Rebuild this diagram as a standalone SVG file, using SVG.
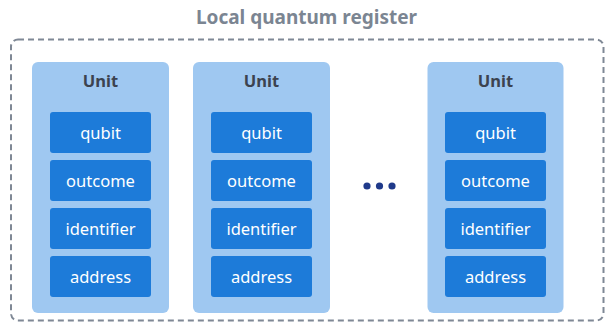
<svg xmlns="http://www.w3.org/2000/svg" width="609" height="322" viewBox="0 0 609 322">
<style>
.title{font-family:"Noto Sans","Open Sans",sans-serif;font-weight:700;font-size:19px;fill:#7b8592;text-anchor:middle}
.unit{fill:#9fc8f1}
.ut{font-family:"Noto Sans","Open Sans",sans-serif;font-weight:700;font-size:16.5px;fill:#3c4350;text-anchor:middle}
.f{fill:#1d7bd9}
.ft{font-family:"Noto Sans","Open Sans",sans-serif;font-size:16.5px;fill:#ffffff;text-anchor:middle}
.dot{fill:#1f3a8a}
</style>
<rect width="609" height="322" fill="#ffffff"/>
<text class="title" x="306.5" y="24">Local quantum register</text>
<rect x="11" y="39.5" width="592.5" height="281" rx="7" fill="none" stroke="#7f8895" stroke-width="2" stroke-dasharray="6,4"/>
<g id="unit1">
<rect class="unit" x="32" y="62" width="137" height="251" rx="6"/>
<text class="ut" x="100.5" y="87">Unit</text>
<rect class="f" x="50" y="112" width="101" height="41" rx="3"/><text class="ft" x="100.5" y="138.5">qubit</text>
<rect class="f" x="50" y="160" width="101" height="41" rx="3"/><text class="ft" x="100.5" y="186.5">outcome</text>
<rect class="f" x="50" y="208" width="101" height="41" rx="3"/><text class="ft" x="100.5" y="234.5">identifier</text>
<rect class="f" x="50" y="256" width="101" height="41" rx="3"/><text class="ft" x="100.5" y="282.5">address</text>
</g>
<g id="unit2">
<rect class="unit" x="193" y="62" width="137" height="251" rx="6"/>
<text class="ut" x="261.5" y="87">Unit</text>
<rect class="f" x="211" y="112" width="101" height="41" rx="3"/><text class="ft" x="261.5" y="138.5">qubit</text>
<rect class="f" x="211" y="160" width="101" height="41" rx="3"/><text class="ft" x="261.5" y="186.5">outcome</text>
<rect class="f" x="211" y="208" width="101" height="41" rx="3"/><text class="ft" x="261.5" y="234.5">identifier</text>
<rect class="f" x="211" y="256" width="101" height="41" rx="3"/><text class="ft" x="261.5" y="282.5">address</text>
</g>
<g id="ellipsis">
<circle class="dot" cx="367" cy="186" r="3.6"/>
<circle class="dot" cx="379.5" cy="186" r="3.6"/>
<circle class="dot" cx="392" cy="186" r="3.6"/>
</g>
<g id="unit3">
<rect class="unit" x="427.5" y="62" width="136" height="251" rx="6"/>
<text class="ut" x="495.5" y="87">Unit</text>
<rect class="f" x="445" y="112" width="101" height="41" rx="3"/><text class="ft" x="495.5" y="138.5">qubit</text>
<rect class="f" x="445" y="160" width="101" height="41" rx="3"/><text class="ft" x="495.5" y="186.5">outcome</text>
<rect class="f" x="445" y="208" width="101" height="41" rx="3"/><text class="ft" x="495.5" y="234.5">identifier</text>
<rect class="f" x="445" y="256" width="101" height="41" rx="3"/><text class="ft" x="495.5" y="282.5">address</text>
</g>
<g id="connectors"></g>
</svg>
